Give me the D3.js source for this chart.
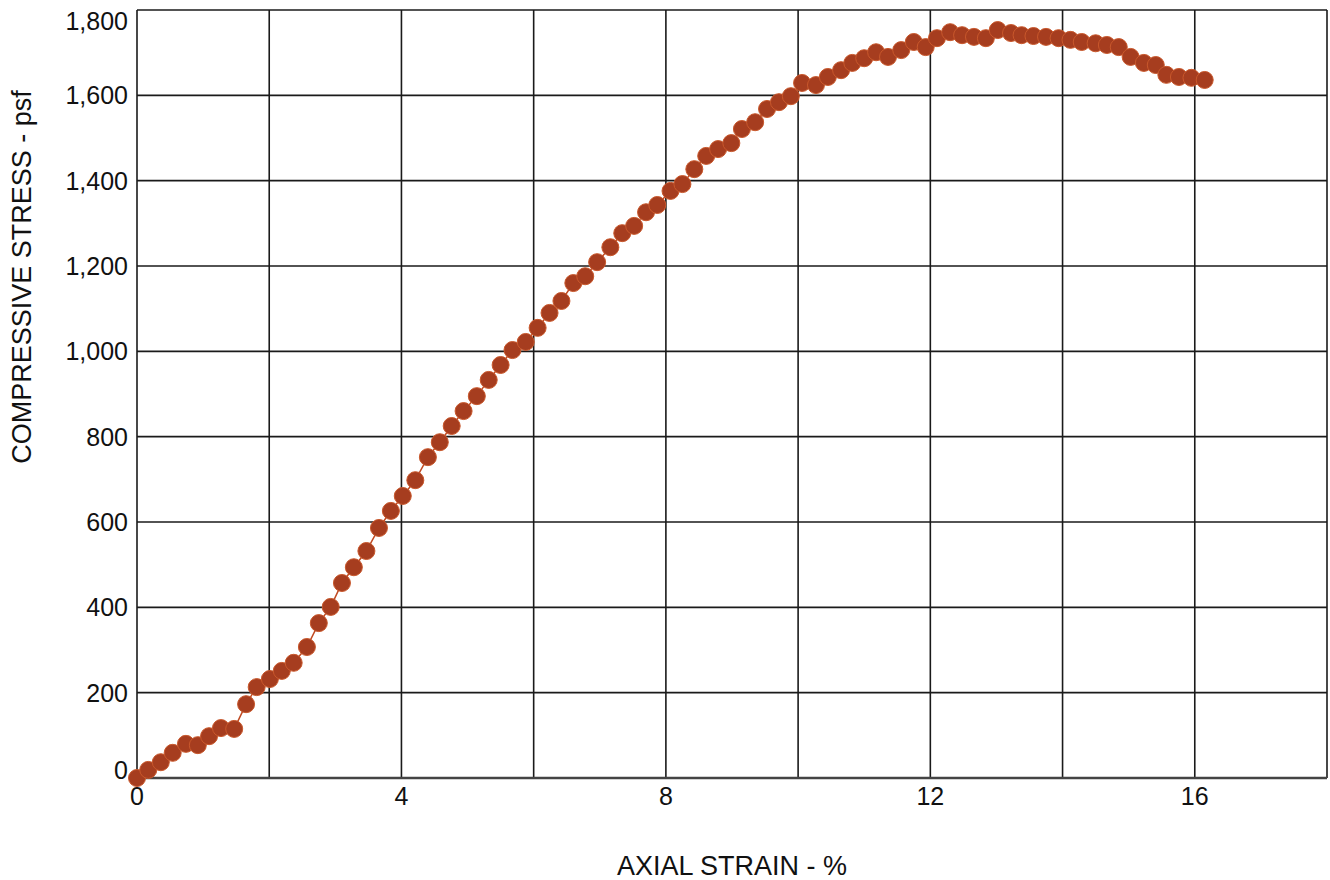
<!DOCTYPE html>
<html>
<head>
<meta charset="utf-8">
<script src="https://cdn.jsdelivr.net/npm/d3@7"></script>
<style>
  body { margin: 0; background: #fff; }
  svg { display: block; font-family: "Liberation Sans", Arial, sans-serif; }
</style>
</head>
<body>
<div id="chart"></div>
<script>
// axial strain (%) and compressive stress (psf)
const strain = [0, 0.17, 0.36, 0.54, 0.74, 0.92, 1.09, 1.27, 1.47, 1.65, 1.81, 2.01, 2.19, 2.37, 2.57, 2.75, 2.93,
  3.10, 3.28, 3.47, 3.66, 3.84, 4.02, 4.21, 4.40, 4.58, 4.76, 4.94, 5.14, 5.32, 5.50, 5.68, 5.88, 6.06, 6.24, 6.42,
  6.60, 6.78, 6.96, 7.16, 7.34, 7.52, 7.70, 7.87, 8.07, 8.25, 8.43, 8.61, 8.79, 8.99, 9.15, 9.35, 9.53, 9.71, 9.89, 10.06,
  10.27, 10.45, 10.65, 10.82, 11.00, 11.18, 11.36, 11.56, 11.75, 11.93, 12.10, 12.30, 12.48, 12.66, 12.84, 13.02, 13.22, 13.38, 13.56, 13.75, 13.94,
  14.12, 14.29, 14.50, 14.67, 14.85, 15.03, 15.23, 15.41, 15.57, 15.76, 15.95, 16.15];
const stress = [0, 19, 37, 59, 80, 77, 98, 117, 115, 173, 213, 232, 251, 270, 307, 363, 401,
  457, 494, 532, 586, 626, 661, 698, 752, 787, 825, 860, 895, 933, 968, 1003, 1022, 1055, 1090, 1118,
  1160, 1176, 1209, 1244, 1277, 1294, 1326, 1343, 1376, 1392, 1427, 1458, 1474, 1488, 1521, 1537, 1568, 1584, 1598, 1629,
  1624, 1643, 1659, 1676, 1687, 1701, 1690, 1706, 1725, 1713, 1734, 1748, 1741, 1737, 1734, 1753, 1746, 1741, 1739, 1737, 1734,
  1730, 1725, 1722, 1718, 1713, 1690, 1676, 1671, 1648, 1643, 1641, 1636];

const xGrid = [0, 2, 4, 6, 8, 10, 12, 14, 16, 18];
const xTickLabels = [0, 4, 8, 12, 16];
const yTicks = [0, 200, 400, 600, 800, 1000, 1200, 1400, 1600, 1800];

const W = 1330, H = 880;
const margin = { top: 10, right: 3, bottom: 102, left: 137 };
const iw = W - margin.left - margin.right;
const ih = H - margin.top - margin.bottom;

const svg = d3.select("#chart").append("svg")
  .attr("width", W)
  .attr("height", H);

const x = d3.scaleLinear().domain([0, 18]).range([0, iw]);
const y = d3.scaleLinear().domain([0, 1800]).range([ih, 0]);

const g = svg.append("g")
  .attr("transform", `translate(${margin.left},${margin.top})`);

// grid
g.selectAll(".vgrid")
  .data(xGrid)
  .join("line")
  .attr("x1", d => x(d)).attr("x2", d => x(d))
  .attr("y1", 0).attr("y2", ih)
  .attr("stroke", "#1a1a1a")
  .attr("stroke-width", 1.6);

g.selectAll(".hgrid")
  .data(yTicks)
  .join("line")
  .attr("x1", 0).attr("x2", iw)
  .attr("y1", d => y(d)).attr("y2", d => y(d))
  .attr("stroke", "#1a1a1a")
  .attr("stroke-width", 1.6);

// bottom axis line
g.append("line")
  .attr("x1", 0).attr("x2", iw)
  .attr("y1", ih).attr("y2", ih)
  .attr("stroke", "#444")
  .attr("stroke-width", 2.5);

// y tick labels (top and bottom ones are kept inside the plot height)
g.selectAll(".ylab")
  .data(yTicks)
  .join("text")
  .attr("x", -9)
  .attr("y", d => Math.max(11, Math.min(ih - 8, y(d))))
  .attr("text-anchor", "end")
  .attr("dominant-baseline", "central")
  .style("font-size", "25px")
  .attr("fill", "#111")
  .text(d => d3.format(",")(d));

// x tick labels
g.selectAll(".xlab")
  .data(xTickLabels)
  .join("text")
  .attr("x", d => x(d))
  .attr("y", ih + 18)
  .attr("text-anchor", "middle")
  .attr("dominant-baseline", "central")
  .style("font-size", "25px")
  .attr("fill", "#111")
  .text(d => d);

// axis titles
svg.append("text")
  .attr("x", 732)
  .attr("y", 875)
  .attr("text-anchor", "middle")
  .style("font-size", "27px")
  .attr("fill", "#111")
  .text("AXIAL STRAIN - %");

svg.append("text")
  .attr("transform", "translate(31,277) rotate(-90)")
  .attr("text-anchor", "middle")
  .style("font-size", "27px")
  .attr("fill", "#111")
  .text("COMPRESSIVE STRESS - psf");

// data
const pts = strain.map((s, i) => ({ s: s, v: stress[i] }));

g.append("path")
  .datum(pts)
  .attr("fill", "none")
  .attr("stroke", "#c04a22")
  .attr("stroke-width", 1.5)
  .attr("d", d3.line().x(d => x(d.s)).y(d => y(d.v)));

g.selectAll(".pt")
  .data(pts)
  .join("circle")
  .attr("cx", d => x(d.s))
  .attr("cy", d => y(d.v))
  .attr("r", 8.5)
  .attr("fill", "#a63d1f")
  .attr("stroke", "#c9582c")
  .attr("stroke-width", 1);
</script>
</body>
</html>
